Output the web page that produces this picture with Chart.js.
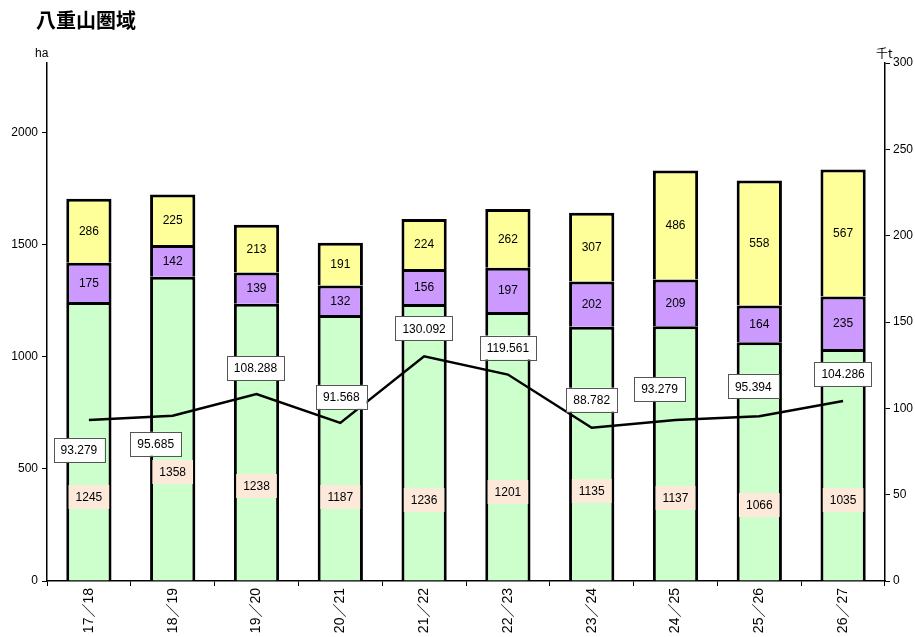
<!DOCTYPE html>
<html>
<head>
<meta charset="utf-8">
<script src="https://cdn.jsdelivr.net/npm/chart.js@4.4.1/dist/chart.umd.min.js"></script>
<style>
  html, body { margin: 0; padding: 0; background: #fff; }
  #wrap { width: 915px; height: 637px; }
</style>
</head>
<body>
<div id="wrap"><canvas id="chart" width="915" height="637"></canvas></div>
<script>
const years = ['17／18', '18／19', '19／20', '20／21', '21／22', '22／23', '23／24', '24／25', '25／26', '26／27'];
const greenArea = [1245, 1358, 1238, 1187, 1236, 1201, 1135, 1137, 1066, 1035];
const purpleArea = [175, 142, 139, 132, 156, 197, 202, 209, 164, 235];
const yellowArea = [286, 225, 213, 191, 224, 262, 307, 486, 558, 567];
const production = [93.279, 95.685, 108.288, 91.568, 130.092, 119.561, 88.782, 93.279, 95.394, 104.286];
const areaTicks = [0, 500, 1000, 1500, 2000];

// label placement (pixels, relative to the point / bar base)
const lineLabelDx = [-10, -17, -1, 1, 0, 0, 0, -16, -6, 0];
const lineLabelDy = [30, 28, -26, -26, -28, -27, -28, -31, -30, -27];
const greenLabelDy = [-84, -109, -95, -84, -81, -89, -90, -83, -76, -81];

const numFont = '"Liberation Sans", Arial, "Noto Sans CJK JP", sans-serif';

const labelPlugin = {
  id: 'labels',
  afterDatasetsDraw(chart) {
    const ctx = chart.ctx;
    ctx.save();
    ctx.font = '12px ' + numFont;
    ctx.textAlign = 'center';
    ctx.textBaseline = 'middle';
    const base = chart.scales.y.getPixelForValue(0);

    // green: peach box near bottom
    chart.getDatasetMeta(0).data.forEach((bar, i) => {
      const t = String(greenArea[i]);
      const w = ctx.measureText(t).width + 14;
      const y = base + greenLabelDy[i];
      ctx.fillStyle = '#fde9d9';
      ctx.fillRect(bar.x - w / 2, y - 12, w, 24);
      ctx.fillStyle = '#000';
      ctx.fillText(t, bar.x, y + 1);
    });
    // purple & yellow: centered
    [[1, purpleArea], [2, yellowArea]].forEach(([di, vals]) => {
      chart.getDatasetMeta(di).data.forEach((bar, i) => {
        ctx.fillStyle = '#000';
        ctx.fillText(String(vals[i]), bar.x, (bar.y + bar.base) / 2 + 1);
      });
    });
    // line labels: white boxes
    chart.getDatasetMeta(3).data.forEach((pt, i) => {
      const t = production[i].toFixed(3);
      const w = ctx.measureText(t).width + 14;
      const x = pt.x + lineLabelDx[i];
      const y = pt.y + lineLabelDy[i];
      ctx.fillStyle = '#fff';
      ctx.fillRect(x - w / 2, y - 12, w, 24);
      ctx.strokeStyle = '#555';
      ctx.lineWidth = 1;
      ctx.strokeRect(Math.round(x - w / 2) + 0.5, Math.round(y - 12) + 0.5, Math.round(w), 24);
      ctx.fillStyle = '#000';
      ctx.fillText(t, x, y + 1);
    });
    ctx.restore();
  },
  afterDraw(chart) {
    const ctx = chart.ctx;
    ctx.save();
    ctx.fillStyle = '#000';
    ctx.textBaseline = 'middle';
    ctx.textAlign = 'left';
    ctx.font = 'bold 20px "Noto Sans CJK JP", sans-serif';
    ctx.fillText('八重山圏域', 36, 20);
    ctx.font = '12px ' + numFont;
    ctx.fillText('ha', 35, 54);
    ctx.font = '12px "Noto Sans CJK JP", sans-serif';
    ctx.fillText('千t', 876, 53);
    ctx.restore();
  }
};

const barStyle = { borderColor: '#000', borderWidth: 3, barPercentage: 0.54, categoryPercentage: 1, yAxisID: 'y', stack: 's' };

new Chart(document.getElementById('chart').getContext('2d'), {
  data: {
    labels: years,
    datasets: [
      Object.assign({ type: 'bar', label: 'green', data: greenArea, backgroundColor: '#ccffcc', order: 1 }, barStyle),
      Object.assign({ type: 'bar', label: 'purple', data: purpleArea, backgroundColor: '#cc99ff', order: 1 }, barStyle),
      Object.assign({ type: 'bar', label: 'yellow', data: yellowArea, backgroundColor: '#ffff99', order: 1 }, barStyle),
      { type: 'line', label: '生産量', data: production, yAxisID: 'y2', borderColor: '#000', borderWidth: 2.5,
        pointRadius: 0, tension: 0, order: 0 }
    ]
  },
  options: {
    responsive: false,
    animation: false,
    layout: { padding: { top: 63, left: 0, right: 0, bottom: 0 } },
    plugins: { legend: { display: false }, tooltip: { enabled: false } },
    scales: {
      x: {
        stacked: true,
        afterFit(s) { s.height = 56; },
        grid: { display: true, drawOnChartArea: false, offset: true, tickLength: 5, color: '#000' },
        border: { display: true, color: '#000', width: 1.5 },
        ticks: { color: '#000', minRotation: 90, maxRotation: 90, padding: 2, font: { size: 14, family: numFont } }
      },
      y: {
        stacked: true,
        position: 'left',
        min: 0, max: 2312,
        afterFit(s) { s.width = 47; },
        afterBuildTicks(s) { s.ticks = areaTicks.map(v => ({ value: v })); },
        grid: { drawOnChartArea: false, tickLength: 5, color: '#000' },
        border: { display: true, color: '#000', width: 1.5 },
        ticks: { color: '#000', padding: 4, font: { size: 12, family: numFont }, callback: v => String(v) }
      },
      y2: {
        position: 'right',
        min: 0, max: 300,
        afterFit(s) { s.width = 30; },
        grid: { drawOnChartArea: false, tickLength: 5, color: '#000' },
        border: { display: true, color: '#000', width: 1.5 },
        ticks: { stepSize: 50, color: '#000', padding: 3, font: { size: 12, family: numFont }, callback: v => String(v) }
      }
    }
  },
  plugins: [labelPlugin]
});
</script>
</body>
</html>
